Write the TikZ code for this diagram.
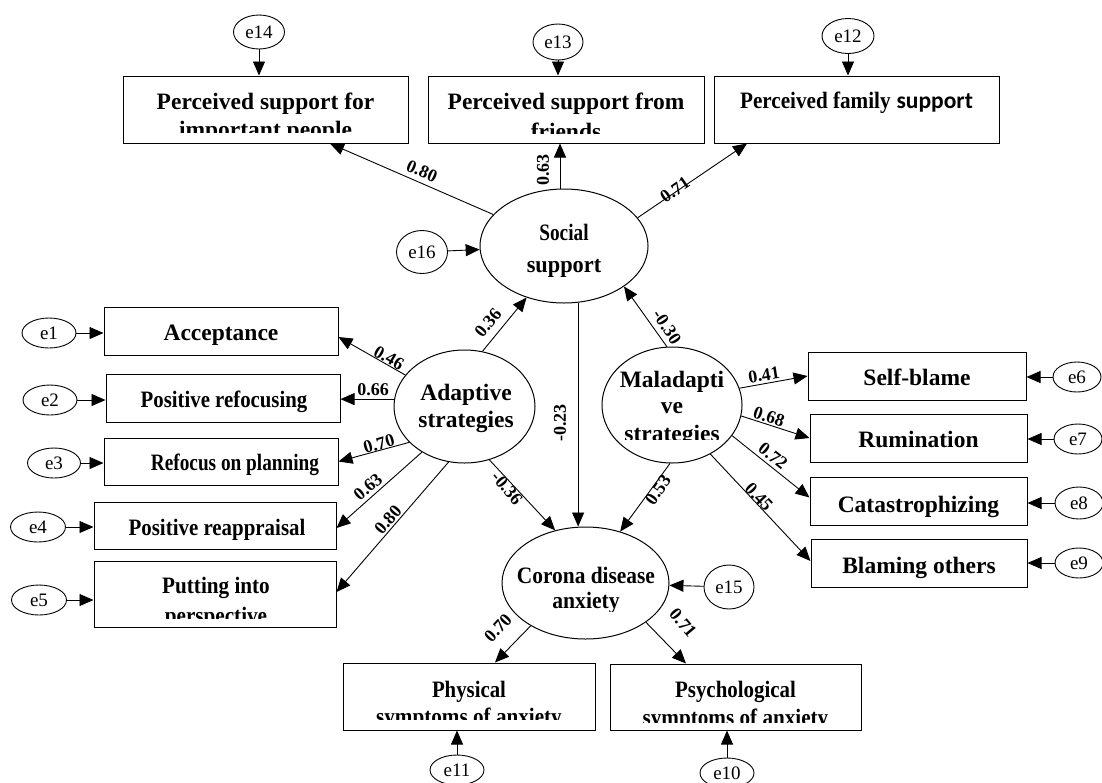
\documentclass[tikz,border=0pt]{standalone}
\usepackage{fontspec}
\setmainfont{Liberation Serif}
\newfontfamily\carlito{Carlito}
\usepackage{graphicx}
\usetikzlibrary{arrows.meta,shapes.geometric}
\newcommand\cx[2]{\scalebox{#1}[1]{#2}}
\begin{document}
\begin{tikzpicture}[x=1pt,y=-1pt,
 box/.style={draw, line width=1pt, inner sep=0pt, rectangle},
 lat/.style={draw, ellipse, line width=1pt, inner sep=0pt},
 err/.style={draw, ellipse, line width=0.9pt, inner sep=0pt, font=\fontsize{19}{20}\selectfont},
 btxt/.style={anchor=base, inner sep=0pt, font=\fontsize{23.5}{26}\selectfont\bfseries},
 lbl/.style={inner sep=0pt, font=\fontsize{18}{20}\selectfont\bfseries},
 arr/.style={-{Triangle[length=14pt,width=12pt]}, line width=0.9pt}]

% ---- boxes ----
\node[box, minimum width=285pt, minimum height=67pt] (A) at (265.5,109.5) {};
\node[box, minimum width=276pt, minimum height=67pt] (B) at (566,109.5) {};
\node[box, minimum width=285pt, minimum height=67pt] (C) at (856.5,109.5) {};
\node[box, minimum width=234pt, minimum height=48pt] (acc) at (221,331) {};
\node[box, minimum width=234pt, minimum height=48pt] (pr) at (223,398) {};
\node[box, minimum width=234pt, minimum height=47pt] (rp) at (221,461.5) {};
\node[box, minimum width=242pt, minimum height=47pt] (pra) at (215,525.5) {};
\node[box, minimum width=242pt, minimum height=66pt] (pip) at (215,594) {};
\node[box, minimum width=218pt, minimum height=48pt] (sb) at (917,376) {};
\node[box, minimum width=217pt, minimum height=48pt] (rum) at (918.5,438) {};
\node[box, minimum width=217pt, minimum height=48pt] (cat) at (918.5,501) {};
\node[box, minimum width=216pt, minimum height=48pt] (bo) at (919,563) {};
\node[box, minimum width=252pt, minimum height=67pt] (ph) at (469,696.5) {};
\node[box, minimum width=251pt, minimum height=66pt] (ps) at (735.5,697) {};

% ---- latent variables ----
\node[lat, minimum width=168pt, minimum height=114pt] (ss) at (564,246) {};
\node[lat, minimum width=141pt, minimum height=113pt] (ad) at (464.5,406.5) {};
\node[lat, minimum width=140pt, minimum height=116pt] (ma) at (672,405) {};
\node[lat, minimum width=167pt, minimum height=112pt] (ca) at (585.5,583) {};

% ---- error terms ----
\node[err, minimum width=51pt, minimum height=34pt] (e14) at (259,32) {e14};
\node[err, minimum width=50pt, minimum height=36pt] (e13) at (558,42) {e13};
\node[err, minimum width=52pt, minimum height=35pt] (e12) at (848,36) {e12};
\node[err, minimum width=51pt, minimum height=43pt] (e16) at (422,252) {e16};
\node[err, minimum width=54pt, minimum height=30pt] (e1) at (49,333) {e1};
\node[err, minimum width=54pt, minimum height=30pt] (e2) at (50,400) {e2};
\node[err, minimum width=53pt, minimum height=30pt] (e3) at (54,463) {e3};
\node[err, minimum width=55pt, minimum height=30pt] (e4) at (38,527) {e4};
\node[err, minimum width=55pt, minimum height=30pt] (e5) at (39,600) {e5};
\node[err, minimum width=48pt, minimum height=30pt] (e6) at (1077,377) {e6};
\node[err, minimum width=48pt, minimum height=30pt] (e7) at (1078,439) {e7};
\node[err, minimum width=48pt, minimum height=32pt] (e8) at (1079,503) {e8};
\node[err, minimum width=48pt, minimum height=30pt] (e9) at (1079,563) {e9};
\node[err, minimum width=50pt, minimum height=44pt] (e15) at (729,587) {e15};
\node[err, minimum width=54pt, minimum height=30pt] (e11) at (457,770) {e11};
\node[err, minimum width=54pt, minimum height=30pt] (e10) at (727,773) {e10};

% ---- texts ----
\node[btxt] (tA1) at (265.5,109) {Perceived support for};
\begin{scope}\clip (124,77) rectangle (407,132);
\node[btxt] (tA2) at (265.5,137) {important people};\end{scope}
\node[btxt] (tB1) at (566,109) {Perceived support from};
\begin{scope}\clip (429,77) rectangle (703,133);
\node[btxt] (tB2) at (566,139) {friends};\end{scope}
\node[btxt] (tC1) at (856.5,108.5) {\cx{0.9}{Perceived family} {\carlito support}};

\node[btxt] (tS1) at (564,240) {\cx{0.82}{Social}};
\node[btxt] (tS2) at (564,272) {\cx{0.95}{support}};
\node[btxt] (tD1) at (466,400) {Adaptive};
\node[btxt] (tD2) at (466,427) {strategies};
\node[btxt] (tM1) at (672,387) {Maladapti};
\node[btxt] (tM2) at (672,413) {ve};
\begin{scope}\clip (600,415) rectangle (745,439);
\node[btxt] (tM3) at (672,441) {strategies};\end{scope}
\node[btxt] (tK1) at (586,583) {\cx{0.91}{Corona disease}};
\begin{scope}\clip (520,590) rectangle (660,611);
\node[btxt] (tK2) at (586,608) {\cx{0.92}{anxiety}};\end{scope}

\node[btxt] (tacc) at (221,340) {Acceptance};
\node[btxt] (tpr) at (224,407) {\cx{0.885}{Positive refocusing}};
\node[btxt] (trp) at (235,470) {\cx{0.82}{Refocus on planning}};
\node[btxt] (tpra) at (217,535) {\cx{0.89}{Positive reappraisal}};
\node[btxt] (tpip1) at (216,593) {\cx{0.9}{Putting into}};
\begin{scope}\clip (95,600) rectangle (335,618);
\node[btxt] (tpip2) at (216,623) {\cx{0.9}{perspective}};\end{scope}

\node[btxt] (tsb) at (917,385) {Self-blame};
\node[btxt] (trum) at (918.5,447) {Rumination};
\node[btxt] (tcat) at (918.5,512) {Catastrophizing};
\node[btxt] (tbo) at (919,573) {Blaming others};

\node[btxt] (tph1) at (469,697) {\cx{0.885}{Physical}};
\begin{scope}\clip (344,702) rectangle (594,719);
\node[btxt] (tph2) at (469,724) {\cx{0.9}{symptoms of anxiety}};\end{scope}
\node[btxt] (tps1) at (735.5,697) {\cx{0.89}{Psychological}};
\begin{scope}\clip (611,702) rectangle (860,722);
\node[btxt] (tps2) at (735.5,725) {\cx{0.9}{symptoms of anxiety}};\end{scope}

% ---- structural arrows ----
\draw[arr] (ss.156) -- ([xshift=64.5pt]A.south);
\draw[arr] (ss.94) -- (ss.94 |- B.south);
\draw[arr] (ss.21) -- ([xshift=-109.5pt]C.south);
\draw[arr] (e16) -- (ss);
\draw[arr] (ad.72) -- (ss.234);
\draw[arr] (ma.95) -- (ss.326);
\draw[arr] (ss.284) -- (ss.284 |- ca.north);
\draw[arr] (ad.152) -- ([yshift=-6pt]acc.east);
\draw[arr] (ad.174) -- (ad.174 -| pr.east);
\draw[arr] (ad.213) -- (rp.east);
\draw[arr] (ad.227) -- ([yshift=-2.5pt]pra.east);
\draw[arr] (ad.254) -- ([yshift=2pt]pip.east);
\draw[arr] (ad.295) -- (ca.120);
\draw[arr] (ma.14) -- (sb.west);
\draw[arr] (ma.351) -- (rum.west);
\draw[arr] (ma.333) -- ([yshift=3.5pt]cat.west);
\draw[arr] (ma.308) -- ([yshift=2pt]bo.west);
\draw[arr] (ma.268) -- (ca.56);
\draw[arr] (e15) -- (ca);
\draw[arr] (ca.218) -- ([xshift=26pt]ph.north);
\draw[arr] (ca.327) -- ([xshift=-49.5pt]ps.north);

% ---- error arrows ----
\draw[arr] (e14) -- (e14 |- A.north);
\draw[arr] (e13) -- (e13 |- B.north);
\draw[arr] (e12) -- (e12 |- C.north);
\draw[arr] (e1) -- (e1 -| acc.west);
\draw[arr] (e2) -- (e2 -| pr.west);
\draw[arr] (e3) -- (e3 -| rp.west);
\draw[arr] (e4) -- (e4 -| pra.west);
\draw[arr] (e5) -- (e5 -| pip.west);
\draw[arr] (e6) -- (e6 -| sb.east);
\draw[arr] (e7) -- (e7 -| rum.east);
\draw[arr] (e8) -- (e8 -| cat.east);
\draw[arr] (e9) -- (e9 -| bo.east);
\draw[arr] (e11) -- (e11 |- ph.south);
\draw[arr] (e10) -- (e10 |- ps.south);

% ---- coefficients ----
\node[lbl, rotate=-23.5] (l1) at (422,171) {0.80};
\node[lbl, rotate=90] (l2) at (543,170) {0.63};
\node[lbl, rotate=35] (l3) at (675,190) {0.71};
\node[lbl, rotate=51] (l4) at (488,323) {0.36};
\node[lbl, rotate=-57] (l5) at (667,327) {-0.30};
\node[lbl, rotate=90] (l6) at (560,423) {-0.23};
\node[lbl, rotate=-30] (l7) at (389,358) {0.46};
\node[lbl] (l8) at (373,390) {0.66};
\node[lbl, rotate=16] (l9) at (379,444) {0.70};
\node[lbl, rotate=41] (l10) at (368,487) {0.63};
\node[lbl, rotate=49] (l11) at (388,520) {0.80};
\node[lbl, rotate=-50] (l12) at (507,488) {-0.36};
\node[lbl, rotate=9] (l13) at (764,375) {0.41};
\node[lbl, rotate=-18] (l14) at (769,417) {0.68};
\node[lbl, rotate=-39] (l15) at (773,456) {0.72};
\node[lbl, rotate=-47] (l16) at (759,497) {0.45};
\node[lbl, rotate=55] (l17) at (658,490) {0.53};
\node[lbl, rotate=47] (l18) at (498,628) {0.70};
\node[lbl, rotate=-50] (l19) at (683,623) {0.71};

\pgfresetboundingbox
\useasboundingbox (0,0) rectangle (1102,782);
\end{tikzpicture}
\end{document}
